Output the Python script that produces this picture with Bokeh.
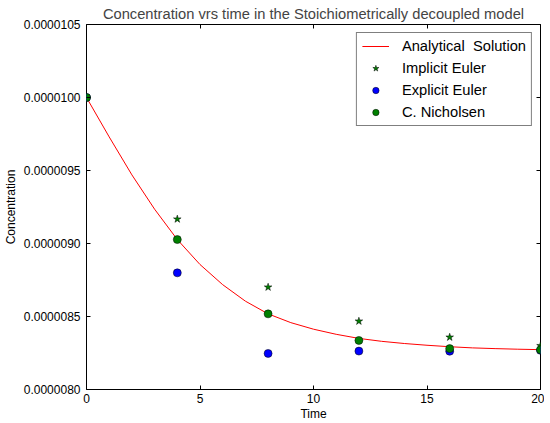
from bokeh.plotting import figure
from bokeh.models import (Range1d, LinearAxis, FixedTicker, PrintfTickFormatter,
                          CustomJSTickFormatter, Legend, LegendItem)
from bokeh.embed import file_html
from bokeh.resources import INLINE

# ---- data ----
t_analytical = [0, 1, 2, 3, 4, 5, 6, 7, 8, 9, 10, 11, 12, 13, 14, 15, 16, 17, 18, 19, 20]
c_analytical = [1.0000e-5, 0.9730e-5, 0.9470e-5, 0.9235e-5, 0.9027e-5, 0.8856e-5,
                0.8718e-5, 0.8605e-5, 0.8518e-5, 0.8458e-5, 0.8413e-5, 0.8378e-5,
                0.8350e-5, 0.8330e-5, 0.8315e-5, 0.8303e-5, 0.8293e-5, 0.8285e-5,
                0.8280e-5, 0.8276e-5, 0.8273e-5]

t_steps = [0, 4, 8, 12, 16, 20]
c_implicit = [1.0000e-5, 0.9167e-5, 0.8701e-5, 0.8468e-5, 0.8358e-5, 0.8300e-5]
c_explicit = [1.0000e-5, 0.8799e-5, 0.8247e-5, 0.8263e-5, 0.8262e-5, 0.8268e-5]
c_nicholsen = [1.0000e-5, 0.9027e-5, 0.8518e-5, 0.8336e-5, 0.8280e-5, 0.8272e-5]

x_ticks = [0, 5, 10, 15, 20]
y_ticks = [0.80e-5, 0.85e-5, 0.90e-5, 0.95e-5, 1.00e-5, 1.05e-5]

FONT = "Liberation Sans"

p = figure(frame_width=454, frame_height=365, output_backend="svg", toolbar_location=None,
           x_range=Range1d(0, 20), y_range=Range1d(0.80e-5, 1.05e-5),
           min_border_left=80, min_border_right=4, min_border_top=0, min_border_bottom=33,
           title="Concentration vrs time in the Stoichiometrically decoupled model")

p.title.text_font = FONT
p.title.text_font_size = "14.7px"
p.title.text_font_style = "normal"
p.title.align = "center"
p.title.standoff = 6

p.xgrid.visible = False
p.ygrid.visible = False
p.outline_line_color = "black"
p.outline_line_width = 1
p.background_fill_color = "white"
p.border_fill_color = "white"

def style_axis(ax, ticks, show_labels):
    ax.ticker = FixedTicker(ticks=ticks)
    ax.axis_line_color = None
    ax.major_tick_in = 4
    ax.major_tick_out = 0
    ax.major_tick_line_color = "black"
    ax.minor_tick_line_color = None
    ax.major_label_text_font = FONT
    ax.major_label_text_color = "black"
    ax.major_label_text_font_size = "12px"
    if show_labels:
        ax.major_label_standoff = 6
        ax.axis_label_text_font = FONT
        ax.axis_label_text_font_size = "12px"
        ax.axis_label_text_font_style = "normal"
        ax.axis_label_text_color = "black"
        ax.axis_label_standoff = 3
    else:
        ax.formatter = CustomJSTickFormatter(code="return ''")
        ax.major_label_standoff = 0

xa = p.xaxis[0]
ya = p.yaxis[0]
style_axis(xa, x_ticks, True)
style_axis(ya, y_ticks, True)
xa.axis_label = "Time"
ya.axis_label = "Concentration"
ya.formatter = PrintfTickFormatter(format="%.7f")
xa.major_label_standoff = 4
xa.axis_label_standoff = 1

top = LinearAxis()
style_axis(top, x_ticks, False)
p.add_layout(top, "above")
right = LinearAxis()
style_axis(right, y_ticks, False)
p.add_layout(right, "right")

r_an = p.line(t_analytical, c_analytical, line_color="#FF0000", line_width=1)
r_im = p.scatter(t_steps, c_implicit, marker="star", size=8,
                 fill_color="#008000", line_color="black", line_width=0.5)
r_ex = p.scatter(t_steps, c_explicit, marker="circle", size=8,
                 fill_color="#0000FF", line_color="black", line_width=0.5)
r_cn = p.scatter(t_steps, c_nicholsen, marker="circle", size=8,
                 fill_color="#008000", line_color="black", line_width=0.5)

legend = Legend(items=[
    LegendItem(label="Analytical  Solution", renderers=[r_an]),
    LegendItem(label="Implicit Euler", renderers=[r_im]),
    LegendItem(label="Explicit Euler", renderers=[r_ex]),
    LegendItem(label="C. Nicholsen", renderers=[r_cn]),
], location="top_right")
legend.label_text_font = FONT
legend.label_text_font_size = "14.7px"
legend.label_text_color = "black"
legend.border_line_color = "black"
legend.border_line_width = 1
legend.border_radius = 0
legend.background_fill_color = "white"
legend.background_fill_alpha = 1
legend.margin = 8
legend.padding = 5
legend.spacing = 6
legend.glyph_width = 27
legend.glyph_height = 16
legend.label_standoff = 13
legend.label_height = 16
p.add_layout(legend)

open("out.html", "w").write(file_html(p, INLINE))
